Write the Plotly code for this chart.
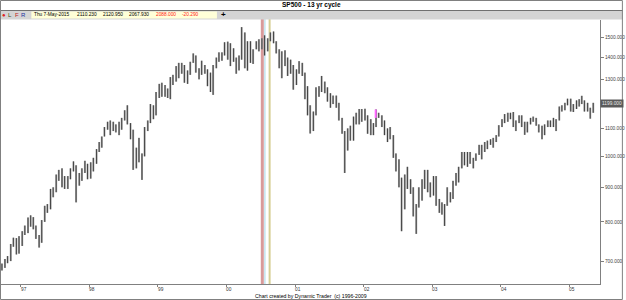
import numpy as np
import pandas as pd
import plotly.graph_objects as go

# ---------------- data (semi-monthly high / low) ----------------
hi_1996 = [694, 705, 712, 742, 758, 757, 762]
lo_1996 = [678, 684, 695, 700, 735, 716, 718]
hi_1997 = [775, 790, 812, 818, 813, 790, 765, 805, 845, 850, 895, 900, 940, 955, 960, 935, 935, 960, 983, 970, 945, 960, 985, 975]
lo_1997 = [737, 765, 770, 787, 780, 755, 733, 745, 800, 825, 835, 870, 885, 920, 900, 895, 895, 925, 950, 855, 905, 920, 945, 925]
hi_1998 = [980, 995, 1025, 1050, 1070, 1105, 1125, 1130, 1125, 1115, 1125, 1140, 1170, 1190, 1120, 1095, 1030, 1065, 1010, 1105, 1130, 1195, 1190, 1245]
lo_1998 = [927, 950, 975, 1015, 1030, 1070, 1095, 1075, 1090, 1085, 1075, 1095, 1130, 1115, 1060, 955, 960, 980, 923, 1000, 1090, 1120, 1135, 1150]
hi_1999 = [1280, 1285, 1275, 1260, 1310, 1320, 1360, 1375, 1375, 1365, 1340, 1380, 1420, 1410, 1350, 1385, 1365, 1345, 1330, 1365, 1400, 1425, 1425, 1475]
lo_1999 = [1220, 1225, 1225, 1220, 1215, 1275, 1290, 1305, 1325, 1285, 1280, 1320, 1375, 1330, 1300, 1320, 1325, 1270, 1245, 1233, 1350, 1380, 1385, 1410]
hi_2000 = [1478, 1470, 1445, 1400, 1410, 1553, 1525, 1480, 1480, 1440, 1480, 1490, 1495, 1510, 1495, 1525, 1530, 1480, 1440, 1430, 1435, 1400, 1390, 1365]
lo_2000 = [1390, 1360, 1380, 1325, 1340, 1390, 1350, 1339, 1375, 1370, 1440, 1430, 1440, 1410, 1430, 1480, 1470, 1420, 1350, 1305, 1360, 1315, 1325, 1255]
hi_2001 = [1345, 1383, 1375, 1330, 1270, 1190, 1165, 1265, 1270, 1315, 1290, 1265, 1240, 1230, 1230, 1200, 1140, 1090, 1100, 1110, 1145, 1160, 1175, 1175]
lo_2001 = [1275, 1325, 1315, 1215, 1150, 1081, 1090, 1150, 1225, 1245, 1240, 1205, 1180, 1195, 1180, 1130, 1080, 945, 1020, 1055, 1055, 1115, 1115, 1125]
hi_2002 = [1176, 1150, 1135, 1120, 1173, 1160, 1150, 1130, 1100, 1105, 1075, 1010, 990, 930, 940, 965, 925, 900, 850, 900, 925, 955, 955, 915]
lo_2002 = [1130, 1080, 1075, 1075, 1105, 1140, 1105, 1075, 1050, 1060, 995, 950, 900, 775, 835, 895, 880, 815, 768, 840, 860, 895, 885, 870]
hi_2003 = [935, 935, 865, 855, 850, 900, 885, 920, 945, 965, 1015, 1015, 1015, 1015, 995, 1010, 1040, 1040, 1050, 1055, 1060, 1065, 1075, 1112]
lo_2003 = [875, 845, 825, 820, 789, 845, 855, 865, 905, 915, 960, 970, 965, 975, 960, 985, 1005, 990, 1015, 1025, 1040, 1030, 1050, 1070]
hi_2004 = [1135, 1155, 1160, 1160, 1163, 1130, 1150, 1150, 1125, 1125, 1140, 1145, 1140, 1115, 1110, 1115, 1130, 1130, 1140, 1135, 1185, 1190, 1200, 1217]
lo_2004 = [1105, 1120, 1125, 1135, 1105, 1090, 1120, 1105, 1076, 1085, 1115, 1125, 1110, 1085, 1060, 1075, 1105, 1105, 1105, 1090, 1130, 1165, 1170, 1190]
hi_2005 = [1217, 1195, 1210, 1215, 1229, 1210, 1200, 1180, 1200]
lo_2005 = [1165, 1163, 1175, 1185, 1195, 1165, 1165, 1137, 1160]

marker_date = ["2002-03-06"]
marker_high = [1173]
marker_low = [1140]

cycle_dates = ["2000-07-10", "2000-07-24", "2000-08-18"]

year_ticks = ["1997-01-01", "1998-01-01", "1999-01-01", "2000-01-01", "2001-01-01",
              "2002-01-01", "2003-01-01", "2004-01-01", "2005-01-01"]
year_labels = ["97", "98", "99", "00", "01", "02", "03", "04", "05"]

price_ticks = [700, 800, 900, 1000, 1100, 1200, 1300, 1400, 1500]
price_labels = ["700.000", "800.000", "900.000", "1000.000", "1100.000",
                "", "1300.000", "1400.000", "1500.000"]

last_price = 1199.0

header_values = ["Thu 7-May-2015", "2110.230", "2120.950", "2067.930", "2088.000", "-20.290"]

# ---------------- build ----------------
highs = hi_1996 + hi_1997 + hi_1998 + hi_1999 + hi_2000 + hi_2001 + hi_2002 + hi_2003 + hi_2004 + hi_2005
lows = lo_1996 + lo_1997 + lo_1998 + lo_1999 + lo_2000 + lo_2001 + lo_2002 + lo_2003 + lo_2004 + lo_2005
dates = pd.date_range("1996-09-15", periods=len(highs), freq="SMS") + pd.Timedelta(days=7)

bx, by = [], []
for d, h, l in zip(dates, highs, lows):
    bx += [d, d, None]
    by += [l, h, None]

W, H = 626, 300
ML, MR, MT, MB = 1, 23, 20, 16
PW, PH = W - ML - MR, H - MT - MB


def xp(px):
    return (px - ML) / PW


def yp(py):
    return (H - MB - py) / PH


fig = go.Figure()
fig.add_trace(go.Scatter(x=bx, y=by, mode="lines", line=dict(color="#a8a8a8", width=2.0),
                         hoverinfo="skip", showlegend=False))
fig.add_trace(go.Scatter(x=bx, y=by, mode="lines", line=dict(color="#2a2a2a", width=0.8),
                         hoverinfo="skip", showlegend=False))
mx, my = [], []
for d, h, l in zip(marker_date, marker_high, marker_low):
    mx += [d, d, None]
    my += [l, h, None]
fig.add_trace(go.Scatter(x=mx, y=my, mode="lines", line=dict(color="#ff66ff", width=2),
                         hoverinfo="skip", showlegend=False))

shapes = []
cyc_style = [("#d89a9a", 3), ("#a6d6e6", 1), ("#d6cf94", 2)]
for d, (c, w) in zip(cycle_dates, cyc_style):
    shapes.append(dict(type="line", xref="x", yref="paper", x0=d, x1=d, y0=0, y1=yp(19),
                       line=dict(color=c, width=w), layer="below"))

# header / toolbar
shapes.append(dict(type="rect", xref="paper", yref="paper", x0=xp(0), x1=xp(626), y0=yp(19.5), y1=yp(10.5),
                   fillcolor="#d4d4d4", line=dict(width=0), layer="below"))
shapes.append(dict(type="line", xref="paper", yref="paper", x0=xp(0), x1=xp(626), y0=yp(10.5), y1=yp(10.5),
                   line=dict(color="#707070", width=1)))
shapes.append(dict(type="rect", xref="paper", yref="paper", x0=xp(31.5), x1=xp(218), y0=yp(18.5), y1=yp(11.5),
                   fillcolor="#ffffd8", line=dict(width=0), layer="below"))
# outer frame
shapes.append(dict(type="rect", xref="paper", yref="paper", x0=xp(0.5), x1=xp(625.5), y0=yp(299.5), y1=yp(0.5),
                   line=dict(color="#808080", width=1), fillcolor="rgba(0,0,0,0)"))

ann = []
ann.append(dict(xref="paper", yref="paper", x=xp(313), y=yp(5.5), text="<b>SP500 - 13 yr cycle</b>",
                showarrow=False, font=dict(family="Liberation Sans", size=6.5, color="#000000"),
                xanchor="center", yanchor="middle"))
ann.append(dict(xref="paper", yref="paper", x=xp(313), y=yp(295.5),
                text="Chart created by Dynamic Trader  (c) 1996-2009",
                showarrow=False, font=dict(family="Liberation Sans", size=5.2, color="#000000"),
                xanchor="center", yanchor="middle"))
tb = [("●", 4, "#e02020"), ("L", 10.5, "#405020"), ("F", 17.5, "#c02020"), ("R", 23.5, "#2030a0")]
for t, x, c in tb:
    ann.append(dict(xref="paper", yref="paper", x=xp(x), y=yp(15), text=t, showarrow=False,
                    font=dict(family="Liberation Sans", size=6, color=c), xanchor="center", yanchor="middle"))
hx = [32, 75.5, 101.5, 127.5, 154.5, 181]
hc = ["#000000", "#000000", "#000000", "#000000", "#ff2020", "#ff2020"]
for t, x, c in zip(header_values, hx, hc):
    ann.append(dict(xref="paper", yref="paper", x=xp(x), y=yp(15), text=t, showarrow=False,
                    font=dict(family="Liberation Sans", size=4.8, color=c), xanchor="left", yanchor="middle"))
ann.append(dict(xref="paper", yref="paper", x=xp(225), y=yp(14.5), text="<b>+</b>", showarrow=False,
                font=dict(family="Liberation Sans", size=8, color="#000000"), xanchor="center", yanchor="middle"))
for d, t in zip(year_ticks, year_labels):
    ann.append(dict(xref="x", yref="paper", x=d, y=yp(289.5), text=t, showarrow=False, xshift=3,
                    font=dict(family="Liberation Sans", size=4.8, color="#333333"),
                    xanchor="center", yanchor="middle"))
ann.append(dict(xref="paper", yref="y", x=1, y=np.log10(last_price), text=f"{last_price:.3f}",
                showarrow=False, xanchor="left", yanchor="middle", bgcolor="#5a5a5a", borderpad=1,
                font=dict(family="Liberation Sans", size=4.8, color="#e8e8e8")))

fig.update_layout(
    width=W, height=H, margin=dict(l=ML, r=MR, t=MT, b=MB, pad=0),
    paper_bgcolor="#ffffff", plot_bgcolor="#ffffff",
    shapes=shapes, annotations=ann, showlegend=False,
    xaxis=dict(type="date", range=["1996-09-17", "2005-06-13"], showgrid=False, zeroline=False,
               showline=True, linecolor="#808080", linewidth=1, ticks="outside", ticklen=2,
               tickcolor="#808080", tickvals=year_ticks, showticklabels=False),
    yaxis=dict(type="log", side="right", range=[2.8112, 3.2017], showgrid=False, zeroline=False,
               showline=True, linecolor="#808080", linewidth=1, ticks="outside", ticklen=3,
               tickcolor="#808080", tickvals=price_ticks, ticktext=price_labels,
               tickfont=dict(family="Liberation Sans", size=4.8, color="#444444")),
)

fig.write_html("out.html")
